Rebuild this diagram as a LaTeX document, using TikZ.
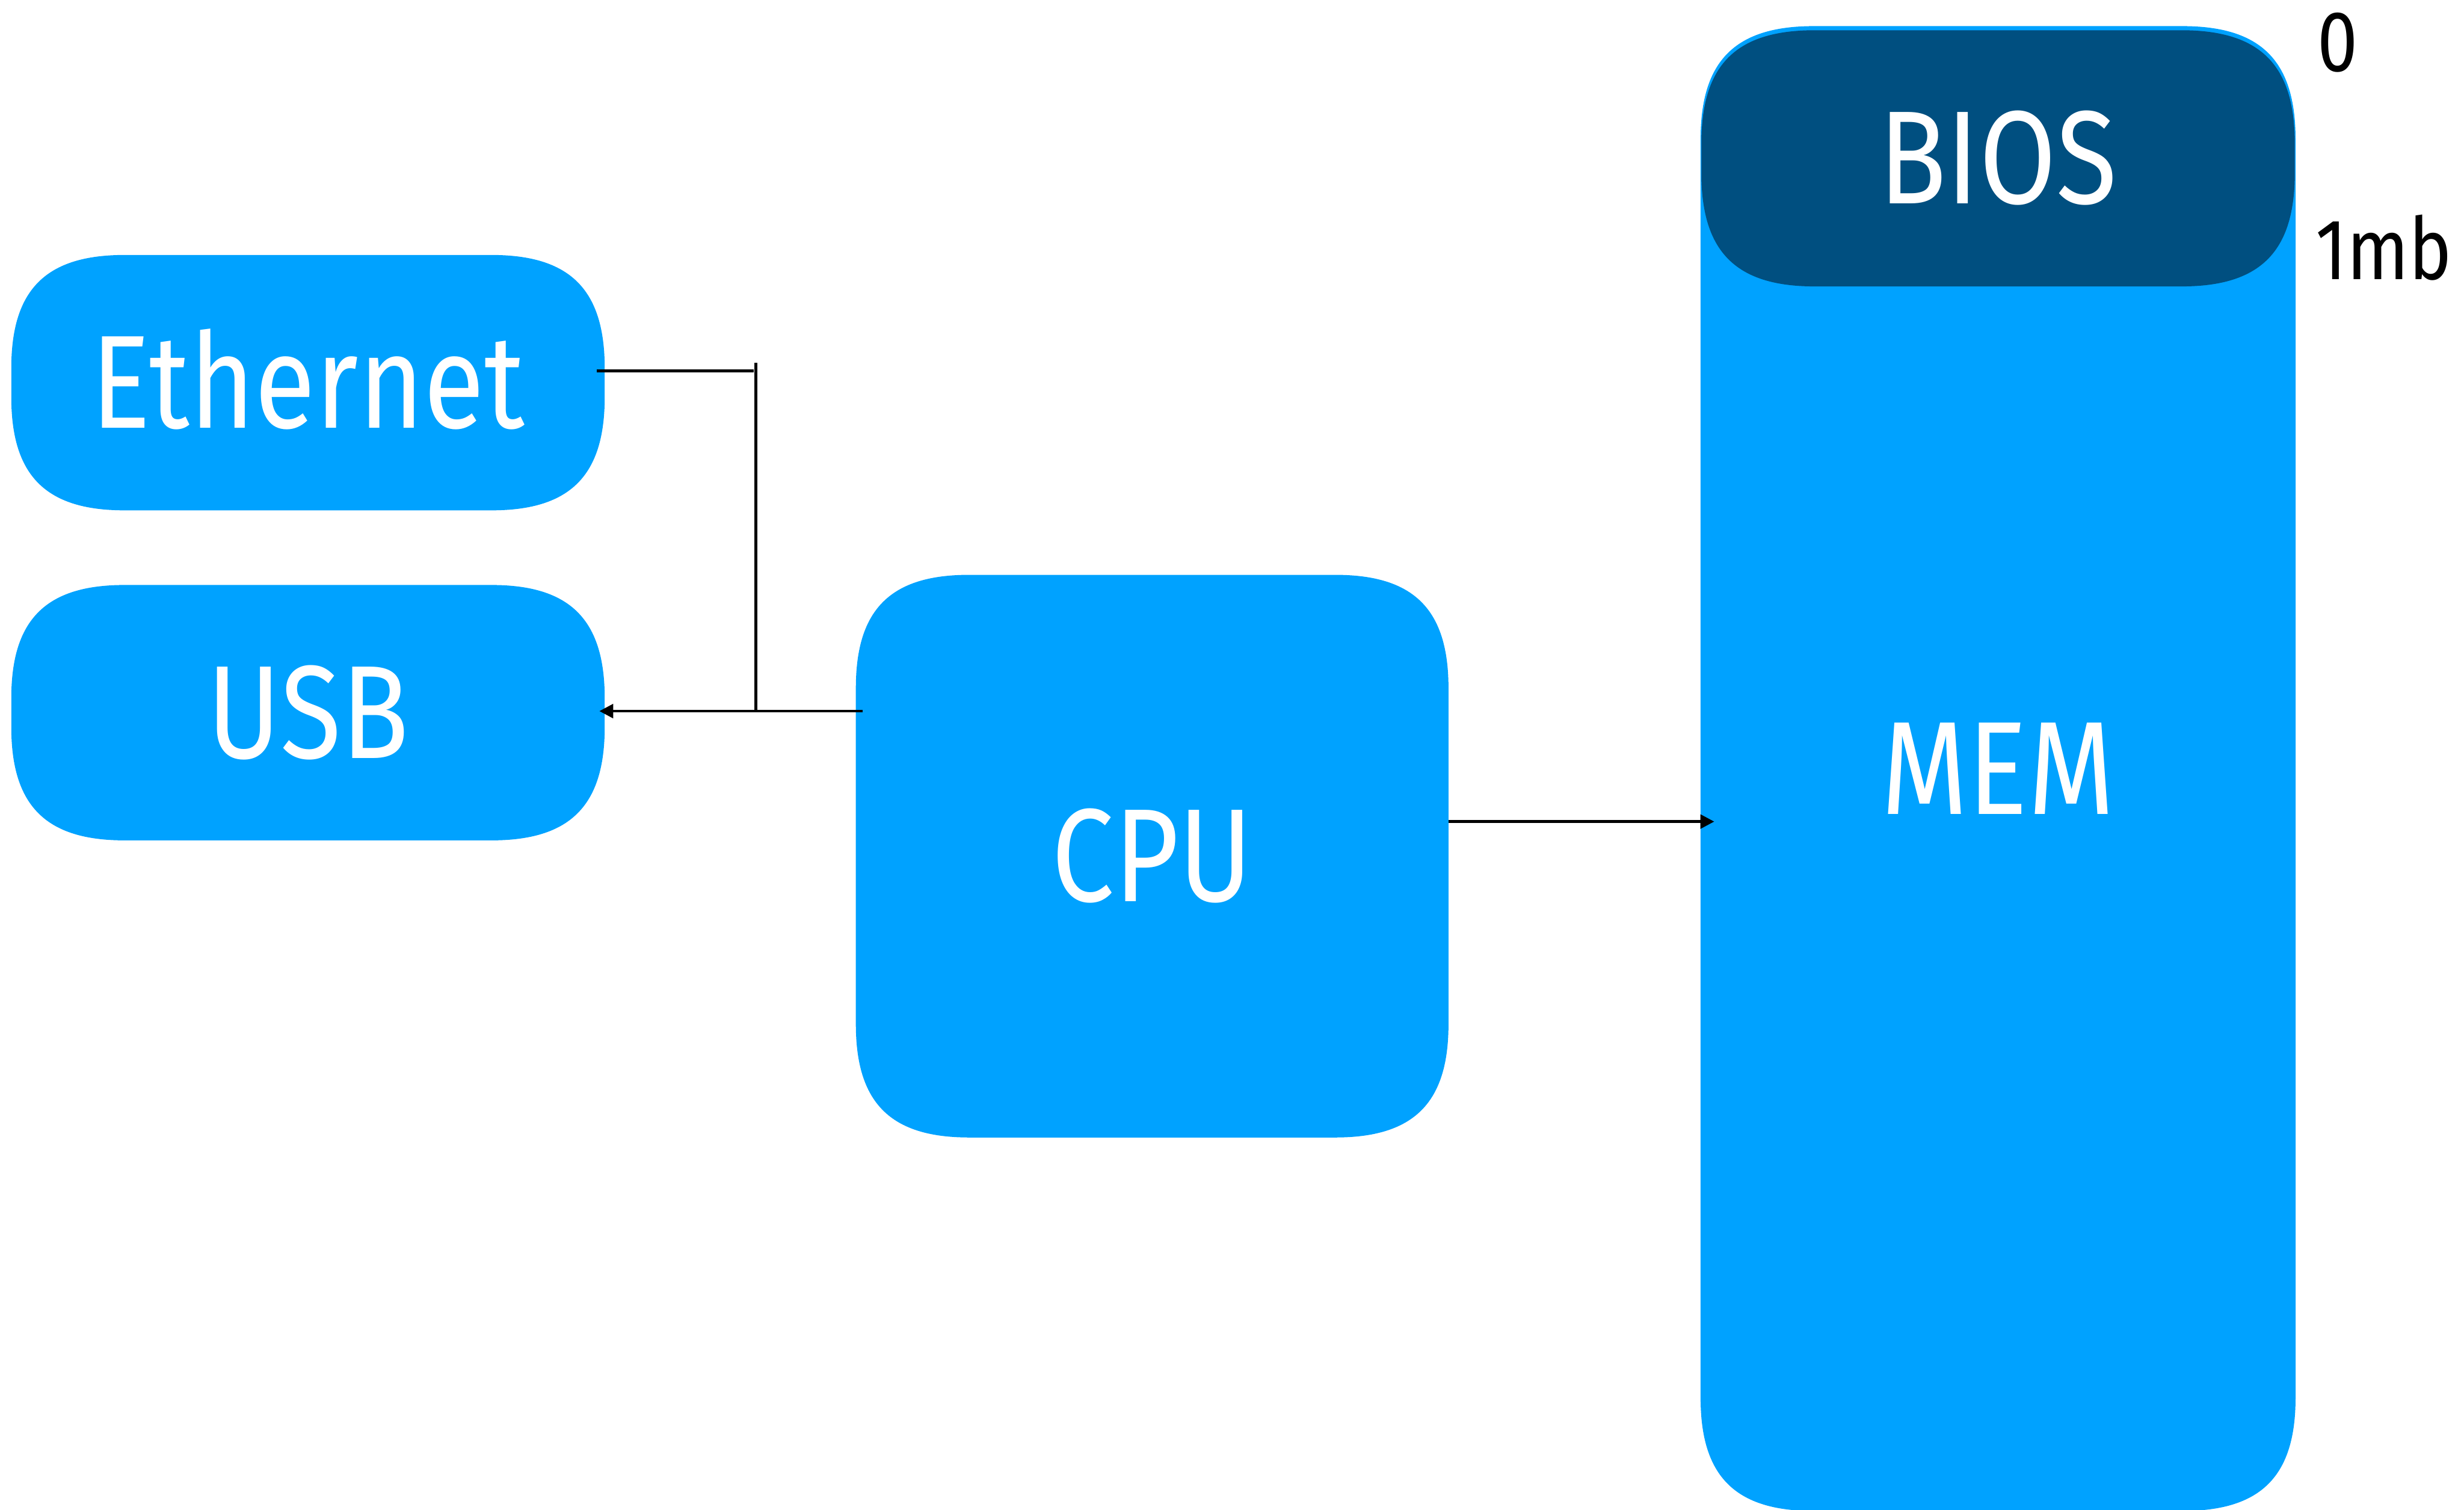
\documentclass[tikz,border=0pt]{standalone}
\usepackage{fontspec}
\setmainfont{Fira Sans}[FakeStretch=0.84]
\usetikzlibrary{arrows.meta,calc}
\pgfdeclarelayer{bg}
\pgfsetlayers{bg,main}

\definecolor{boxblue}{HTML}{00A2FF}
\definecolor{romblue}{HTML}{004F80}

% corner size and control offset of the soft (squircle-like) corners
\newcommand\cornerlen{0.72cm}
\newcommand\cornerctl{0.22cm}

% fill a soft-cornered box behind the named node
\newcommand\softbox[2]{%
  \begin{pgfonlayer}{bg}
    \fill[#2]
      ([yshift=\cornerlen]#1.south west) -- ([yshift=-\cornerlen]#1.north west)
      .. controls ([yshift=-\cornerctl]#1.north west) and ([xshift=\cornerctl]#1.north west) ..
      ([xshift=\cornerlen]#1.north west) -- ([xshift=-\cornerlen]#1.north east)
      .. controls ([xshift=-\cornerctl]#1.north east) and ([yshift=-\cornerctl]#1.north east) ..
      ([yshift=-\cornerlen]#1.north east) -- ([yshift=\cornerlen]#1.south east)
      .. controls ([yshift=\cornerctl]#1.south east) and ([xshift=-\cornerctl]#1.south east) ..
      ([xshift=-\cornerlen]#1.south east) -- ([xshift=\cornerlen]#1.south west)
      .. controls ([xshift=\cornerctl]#1.south west) and ([yshift=\cornerctl]#1.south west) ..
      cycle;
  \end{pgfonlayer}}

\tikzset{
  unit/.style={inner sep=0pt, text=white,
    font=\fontsize{24pt}{28pt}\selectfont,
    text height=16.5pt, text depth=0pt},
  addr/.style={inner sep=0pt, text=black,
    font=\fontsize{15.6pt}{18pt}\selectfont},
  wire/.style={line width=0.5pt, black},
  feed/.style={wire, -{Triangle[length=2.5pt,width=2.5pt]}}
}

\begin{document}
\begin{tikzpicture}[x=0.01cm, y=-0.01cm]
  \useasboundingbox (0,0) rectangle (1568,960.5);

  % devices
  \node[unit, minimum width=3.76cm, minimum height=1.61cm] (eth) at (196,243.5) {Ethernet};
  \node[unit, minimum width=3.76cm, minimum height=1.61cm] (usb) at (196,453.5) {USB};
  \node[unit, minimum width=3.755cm, minimum height=3.564cm] (cpu) at (733.2,544.8) {CPU};

  % memory column with the BIOS region at the top
  \node[unit, minimum width=3.77cm, minimum height=9.429cm] (mem) at (1271.5,489.05) {MEM};
  \node[unit, minimum width=3.76cm, minimum height=1.615cm] (bios) at (1271.5,100.75) {BIOS};

  \softbox{eth}{boxblue}
  \softbox{usb}{boxblue}
  \softbox{cpu}{boxblue}
  \softbox{mem}{boxblue}
  \softbox{bios}{romblue}

  % address marks
  \node[addr, anchor=base] (addrlow) at (1487.5,45.5) {0};
  \node[addr, anchor=base west] (addrhigh) at (1473,178) {1mb};

  % I/O bus
  \coordinate (busTop) at (481,231);
  \coordinate (busBot) at (481,452.5);
  \draw[wire] ($(eth.east)+(-5,-7.5)$) -- ++(100,0);
  \draw[wire] (busTop) -- (busBot);
  \draw[feed] ($(cpu.west |- busBot)+(4.5,0)$) -- ($(usb.east |- busBot)+(-3.4,0)$);

  % CPU to memory
  \coordinate (memIn) at ($(cpu.east)+(0,-22)$);
  \draw[feed] (memIn) -- ($(memIn -| mem.west)+(8.7,0)$);
\end{tikzpicture}
\end{document}
